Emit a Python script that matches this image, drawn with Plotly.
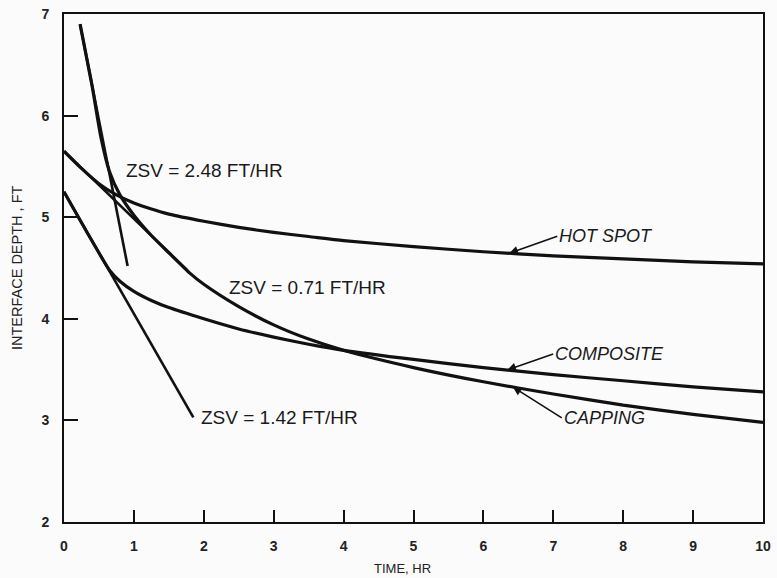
import numpy as np
import plotly.graph_objects as go

# ---- data ----
hot_x = [0, 0.25, 0.5, 0.75, 1.0, 1.25, 1.5, 2.0, 2.5, 3.0, 3.5, 4.0, 5.0, 6.0, 7.0, 8.0, 9.0, 10.0]
hot_y = [5.65, 5.48, 5.33, 5.22, 5.14, 5.08, 5.03, 4.96, 4.90, 4.85, 4.81, 4.77, 4.71, 4.66, 4.62, 4.59, 4.56, 4.54]

comp_x = [0, 0.33, 0.66, 0.8, 1.0, 1.25, 1.5, 2.0, 2.5, 3.0, 3.5, 4.0, 5.0, 6.0, 7.0, 8.0, 9.0, 10.0]
comp_y = [5.25, 4.85, 4.47, 4.37, 4.27, 4.18, 4.11, 4.00, 3.90, 3.82, 3.75, 3.69, 3.60, 3.52, 3.45, 3.39, 3.33, 3.28]

cap_x = [0.23, 0.4, 0.53, 0.65, 0.8, 1.0, 1.25, 1.5, 1.8, 2.0, 2.5, 3.0, 3.5, 4.0, 5.0, 6.0, 7.0, 8.0, 9.0, 10.0]
cap_y = [6.90, 6.30, 5.78, 5.45, 5.22, 5.02, 4.82, 4.65, 4.45, 4.34, 4.12, 3.94, 3.80, 3.69, 3.52, 3.38, 3.26, 3.15, 3.06, 2.98]

zsv248_x = [0.23, 0.91]
zsv248_y = [6.90, 4.52]
zsv071_x = [0.0, 1.76]
zsv071_y = [5.65, 4.48]
zsv142_x = [0.0, 1.85]
zsv142_y = [5.25, 3.03]

x_ticks = [0, 1, 2, 3, 4, 5, 6, 7, 8, 9, 10]
y_ticks = [2, 3, 4, 5, 6, 7]

zsv_labels = ["ZSV = 2.48 FT/HR", "ZSV = 0.71 FT/HR", "ZSV = 1.42 FT/HR"]
curve_labels = ["HOT SPOT", "COMPOSITE", "CAPPING"]

INK = "#111111"
FONT = "Liberation Sans, Arial, Helvetica, sans-serif"

fig = go.Figure()

for xs, ys in [(hot_x, hot_y), (comp_x, comp_y), (cap_x, cap_y)]:
    fig.add_trace(go.Scatter(x=xs, y=ys, mode="lines",
                             line=dict(color=INK, width=3.2, shape="spline", smoothing=0.6),
                             hoverinfo="skip", showlegend=False))

for xs, ys in [(zsv248_x, zsv248_y), (zsv071_x, zsv071_y), (zsv142_x, zsv142_y)]:
    fig.add_trace(go.Scatter(x=xs, y=ys, mode="lines",
                             line=dict(color=INK, width=2.6),
                             hoverinfo="skip", showlegend=False))

annotations = []
# ZSV labels (positions near line ends)
zsv_pos = [(0.86, 5.46), (2.33, 4.31), (1.93, 3.03)]
for txt, (px, py) in zip(zsv_labels, zsv_pos):
    annotations.append(dict(x=px, y=py, xref="x", yref="y", text=txt, showarrow=False,
                            xanchor="left", yanchor="middle",
                            font=dict(family=FONT, size=19, color="#1a1a1a")))

# curve labels with arrows pointing to the curves
series = [(hot_x, hot_y), (comp_x, comp_y), (cap_x, cap_y)]
arrow_at = [6.37, 6.34, 6.42]
offsets = [(48, -17), (46, -16), (49, 31)]
for txt, (xs, ys), ax_, (dx, dy) in zip(curve_labels, series, arrow_at, offsets):
    annotations.append(dict(x=ax_, y=float(np.interp(ax_, xs, ys)), xref="x", yref="y",
                            text="<i>" + txt + "</i>", showarrow=True,
                            ax=dx, ay=dy, xanchor="left", yanchor="middle",
                            arrowhead=2, arrowsize=1.1, arrowwidth=1.6, arrowcolor=INK,
                            font=dict(family=FONT, size=18, color="#1a1a1a")))

# axis titles
annotations.append(dict(x=0, y=0.5, xref="paper", yref="paper", xshift=-47, yshift=0,
                        text="INTERFACE DEPTH , FT", textangle=-90, showarrow=False,
                        xanchor="center", yanchor="middle",
                        font=dict(family=FONT, size=14.5, color="#222222")))
annotations.append(dict(x=0.484, y=0, xref="paper", yref="paper", yshift=-46,
                        text="TIME, HR", showarrow=False,
                        xanchor="center", yanchor="middle",
                        font=dict(family=FONT, size=13, color="#222222")))

fig.update_layout(
    width=777, height=578,
    margin=dict(l=64, r=14, t=14, b=56, autoexpand=False),
    paper_bgcolor="#fbfbfb", plot_bgcolor="#fbfbfb",
    annotations=annotations,
    showlegend=False,
)

fig.update_xaxes(range=[0, 10], tickvals=x_ticks, ticktext=[str(v) for v in x_ticks],
                 showgrid=False, zeroline=False, automargin=False,
                 showline=True, linecolor=INK, linewidth=2, mirror=True,
                 ticks="inside", ticklen=12, tickwidth=2.2, tickcolor=INK,
                 ticklabelstandoff=10,
                 tickfont=dict(family=FONT, size=14, color="#222222", weight="bold"))
fig.update_yaxes(range=[2, 7], tickvals=y_ticks, ticktext=[str(v) for v in y_ticks],
                 showgrid=False, zeroline=False, automargin=False,
                 showline=True, linecolor=INK, linewidth=2, mirror=True,
                 ticks="inside", ticklen=14, tickwidth=2.2, tickcolor=INK,
                 ticklabelstandoff=10,
                 tickfont=dict(family=FONT, size=14, color="#222222", weight="bold"))

fig.write_html("out.html")
